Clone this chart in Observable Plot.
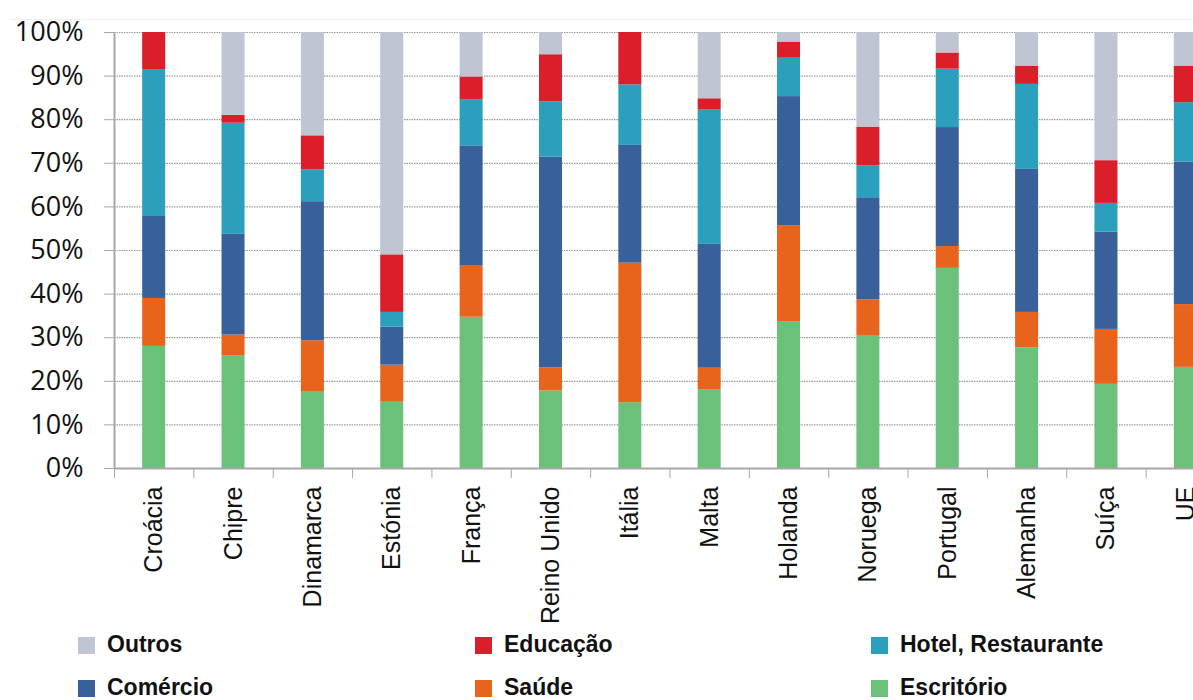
<!DOCTYPE html>
<html>
<head>
<meta charset="utf-8">
<script src="https://cdn.jsdelivr.net/npm/d3@7"></script>
<script src="https://cdn.jsdelivr.net/npm/@observablehq/plot@0.6"></script>
<style>
  html, body { margin: 0; padding: 0; background: #fff; overflow: hidden; width: 1193px; height: 700px; }
  #wrap { position: relative; width: 1193px; height: 700px; overflow: hidden; }
  #chart { position: absolute; left: 0; top: 0; width: 1225px; }
  #chart svg { max-width: none !important; }
  #topline { position: absolute; left: 10px; right: 0; top: 19px; height: 1px; background: #eeeeee; }
  .leg { position: absolute; font-family: "Liberation Sans", Arial, sans-serif; font-weight: bold; font-size: 23px; line-height: 23px; color: #111; white-space: nowrap; }
  .sw { position: absolute; width: 17px; height: 17px; }
</style>
</head>
<body>
<div id="wrap">
  <div id="topline"></div>
  <div id="chart"></div>
  <div id="legend"></div>
</div>
<script>
const countries = ["Croácia","Chipre","Dinamarca","Estónia","França","Reino Unido","Itália","Malta","Holanda","Noruega","Portugal","Alemanha","Suíça","UE"];
const sectors = ["Escritório","Saúde","Comércio","Hotel, Restaurante","Educação","Outros"];
const colors = ["#6cc17a","#e8641c","#38609b","#2aa0bc","#da1f2a","#bfc5d3"];

const escritorio = [28.0, 25.9, 17.5, 15.2, 34.7, 17.8, 15.1, 18.1, 33.7, 30.5, 45.9, 27.7, 19.3, 23.2];
const saude      = [11.0,  4.7, 11.8,  8.5, 11.7,  5.3, 32.0,  4.9, 22.0,  8.2,  5.0,  8.1, 12.6, 14.4];
const comercio   = [18.8, 23.1, 31.9,  8.7, 27.6, 48.3, 27.0, 28.4, 29.6, 23.4, 27.3, 32.8, 22.3, 32.7];
const hotel      = [33.7, 25.5,  7.3,  3.4, 10.6, 12.7, 13.9, 30.8,  8.8,  7.3, 13.4, 19.5,  6.6, 13.6];
const educacao   = [ 8.5,  1.8,  7.8, 13.2,  5.2, 10.8, 12.0,  2.6,  3.7,  8.9,  3.7,  4.2,  9.8,  8.4];
const outros     = [ 0.0, 19.0, 23.7, 51.0, 10.2,  5.1,  0.0, 15.2,  2.2, 21.7,  4.7,  7.7, 29.4,  7.7];

const yTicks = [0,10,20,30,40,50,60,70,80,90,100];

const seriesValues = [escritorio, saude, comercio, hotel, educacao, outros];
const data = [];
sectors.forEach((s, si) => {
  countries.forEach((c, ci) => data.push({country: c, sector: s, value: seriesValues[si][ci]}));
});

const width = 1225, marginLeft = 114, marginRight = 0, marginTop = 32, marginBottom = 152, height = 620;
const step = (width - marginLeft - marginRight) / countries.length;
const axisGray = "#a8a8a8";

const chart = Plot.plot({
  width, height, marginLeft, marginRight, marginTop, marginBottom,
  style: {background: "transparent", overflow: "visible", maxWidth: "none"},
  x: {domain: countries, paddingInner: 0.71, paddingOuter: 0.355, align: 0.5, round: false, label: null, axis: null},
  y: {domain: [0, 100], label: null, axis: null},
  color: {domain: sectors, range: colors},
  marks: [
    Plot.gridY(yTicks, {stroke: "#9a9a9a", strokeOpacity: 1, strokeWidth: 1.2, strokeDasharray: "1.5,1"}),
    Plot.barY(data, {x: "country", y: "value", fill: "sector", order: sectors, inset: 0}),
    Plot.ruleY([0], {stroke: axisGray, strokeWidth: 2}),
    Plot.ruleX([countries[0]], {dx: -step/2, y1: 0, y2: 100, stroke: axisGray, strokeWidth: 2}),
    Plot.axisY({ticks: yTicks, tickSize: 10, tickPadding: 21, tickFormat: d => d + "%", stroke: axisGray, fill: "#111", fontSize: 27, fontFamily: "'Open Sans', sans-serif", label: null}),
    Plot.axisX({tickSize: 10, tickFormat: () => "", dx: -step/2, stroke: axisGray, label: null}),
    Plot.axisX({tickSize: 0, tickPadding: 18, tickRotate: -90, fill: "#111", fontSize: 25, fontFamily: "'Liberation Sans', Arial, sans-serif", label: null})
  ]
});
document.getElementById("chart").appendChild(chart);

// Legend
const legendPos = [
  {s: "Outros", x: 78, y: 637},
  {s: "Educação", x: 475, y: 637},
  {s: "Hotel, Restaurante", x: 871, y: 637},
  {s: "Comércio", x: 78, y: 680},
  {s: "Saúde", x: 475, y: 680},
  {s: "Escritório", x: 871, y: 680}
];
const leg = document.getElementById("legend");
legendPos.forEach(p => {
  const sw = document.createElement("div");
  sw.className = "sw";
  sw.style.left = p.x + "px";
  sw.style.top = p.y + "px";
  sw.style.background = colors[sectors.indexOf(p.s)];
  leg.appendChild(sw);
  const t = document.createElement("div");
  t.className = "leg";
  t.style.left = (p.x + 29) + "px";
  t.style.top = (p.y - 4) + "px";
  t.textContent = p.s;
  leg.appendChild(t);
});
</script>
</body>
</html>
